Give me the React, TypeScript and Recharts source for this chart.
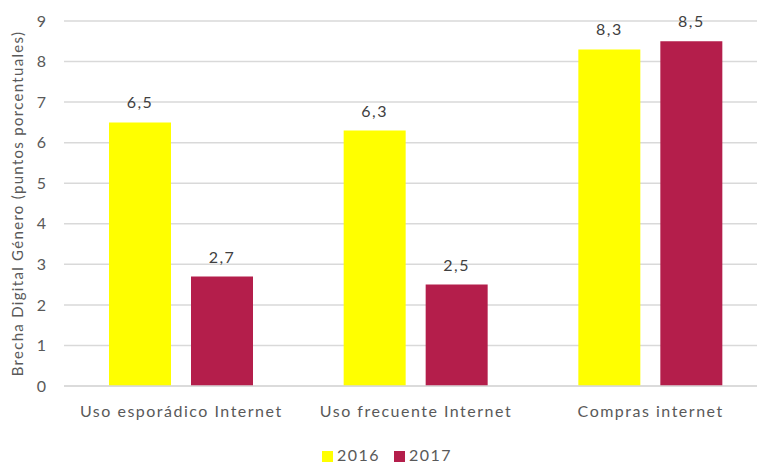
import React from 'react';
import { BarChart, Bar, XAxis, YAxis, CartesianGrid, Legend, LabelList } from 'recharts';

const categories = ['Uso esporádico Internet', 'Uso frecuente Internet', 'Compras internet'];
const values2016 = [6.5, 6.3, 8.3];
const values2017 = [2.7, 2.5, 8.5];
const yTicks = [0, 1, 2, 3, 4, 5, 6, 7, 8, 9];

const FONT = 'Lato, "Liberation Sans", sans-serif';
const COLOR_2016 = '#FFFF00';
const COLOR_2017 = '#B41E4B';

const data = categories.map((name, i) => ({
  name,
  y2016: values2016[i],
  y2017: values2017[i],
}));

const fmt = (v: any) => String(v).replace('.', ',');

const App: React.FC = () => {
  return (
    <div style={{ position: 'absolute', left: 0, top: 0, width: 757, height: 463, background: '#fff', fontFamily: FONT, overflow: 'hidden' }}>
      <BarChart
        width={757}
        height={463}
        data={data}
        margin={{ top: 21, right: -11, left: 0, bottom: 0 }}
        barSize={62}
        barGap={20}
      >
        <CartesianGrid vertical={false} stroke="#d9d9d9" strokeWidth={1.5} />
        <XAxis
          dataKey="name"
          tickLine={false}
          axisLine={{ stroke: '#d9d9d9', strokeWidth: 1.5 }}
          tick={{ fill: '#595959', fontSize: 16, fontFamily: FONT, letterSpacing: 1.5 }}
          tickMargin={14}
          height={58}
        />
        <YAxis
          domain={[0, 9]}
          ticks={yTicks}
          width={64}
          tickLine={false}
          axisLine={false}
          tick={{ fill: '#595959', fontSize: 16, fontFamily: FONT }}
          tickMargin={18}
          tickSize={0}
          label={{
            value: 'Brecha Digital Género  (puntos porcentuales)',
            angle: -90,
            position: 'insideLeft',
            dx: 13,
            style: { fill: '#595959', fontSize: 15, fontFamily: FONT, letterSpacing: 1.3, textAnchor: 'middle' },
          }}
        />
        <Legend
          verticalAlign="bottom"
          iconType="square"
          iconSize={11}
          wrapperStyle={{ bottom: -1, left: 10 }}
          formatter={(value: string) => (
            <span style={{ color: '#595959', fontSize: 16, fontFamily: FONT, letterSpacing: 1.5, marginRight: 4 }}>{value}</span>
          )}
        />
        <Bar dataKey="y2016" name="2016" fill={COLOR_2016} isAnimationActive={false}>
          <LabelList dataKey="y2016" position="top" offset={14} formatter={fmt} style={{ fill: '#404040', fontSize: 16, fontFamily: FONT, letterSpacing: 1.5 }} />
        </Bar>
        <Bar dataKey="y2017" name="2017" fill={COLOR_2017} isAnimationActive={false}>
          <LabelList dataKey="y2017" position="top" offset={14} formatter={fmt} style={{ fill: '#404040', fontSize: 16, fontFamily: FONT, letterSpacing: 1.5 }} />
        </Bar>
      </BarChart>
    </div>
  );
};

export default App;
